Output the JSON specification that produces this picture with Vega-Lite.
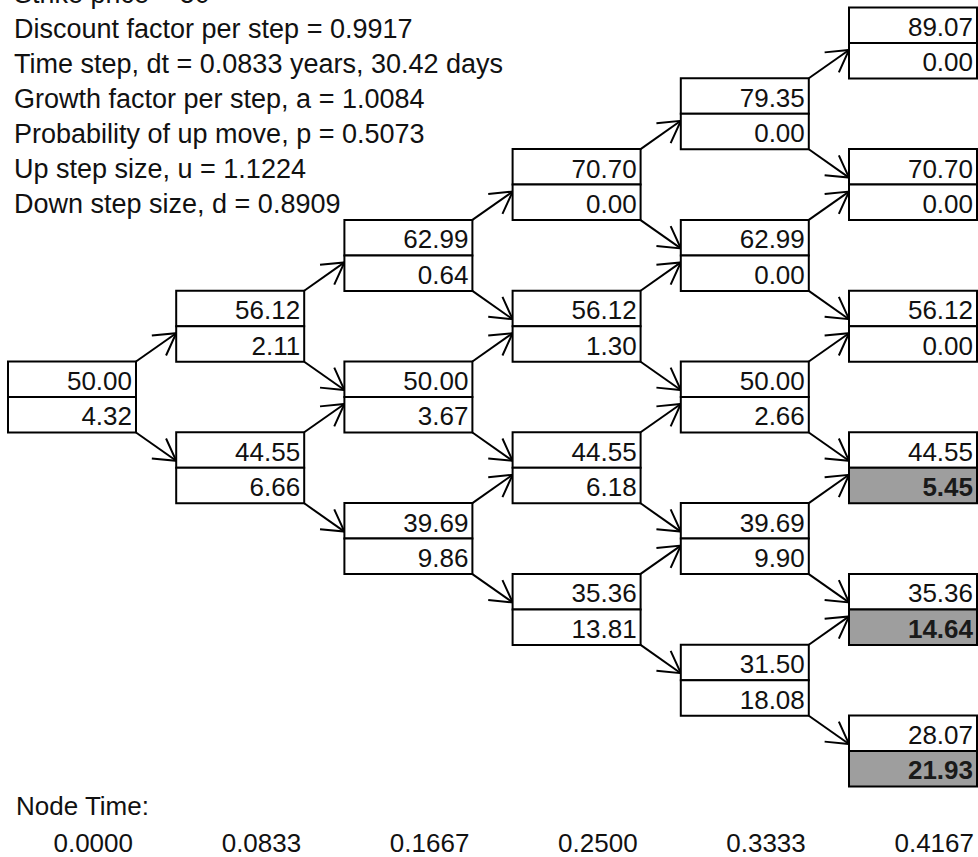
{
  "$schema": "https://vega.github.io/schema/vega-lite/v6.json",
  "width": 978,
  "height": 857,
  "autosize": "none",
  "padding": 0,
  "background": "white",
  "config": {
    "view": {"stroke": null},
    "text": {"font": "Liberation Sans", "fontSize": 26, "color": "#111111"}
  },
  "datasets": {
    "nodes": [
      {"step": 0, "L": 0, "price": 50.00, "value": 4.32},
      {"step": 1, "L": 1, "price": 56.12, "value": 2.11},
      {"step": 1, "L": -1, "price": 44.55, "value": 6.66},
      {"step": 2, "L": 2, "price": 62.99, "value": 0.64},
      {"step": 2, "L": 0, "price": 50.00, "value": 3.67},
      {"step": 2, "L": -2, "price": 39.69, "value": 9.86},
      {"step": 3, "L": 3, "price": 70.70, "value": 0.00},
      {"step": 3, "L": 1, "price": 56.12, "value": 1.30},
      {"step": 3, "L": -1, "price": 44.55, "value": 6.18},
      {"step": 3, "L": -3, "price": 35.36, "value": 13.81},
      {"step": 4, "L": 4, "price": 79.35, "value": 0.00},
      {"step": 4, "L": 2, "price": 62.99, "value": 0.00},
      {"step": 4, "L": 0, "price": 50.00, "value": 2.66},
      {"step": 4, "L": -2, "price": 39.69, "value": 9.90},
      {"step": 4, "L": -4, "price": 31.50, "value": 18.08},
      {"step": 5, "L": 5, "price": 89.07, "value": 0.00},
      {"step": 5, "L": 3, "price": 70.70, "value": 0.00},
      {"step": 5, "L": 1, "price": 56.12, "value": 0.00},
      {"step": 5, "L": -1, "price": 44.55, "value": 5.45},
      {"step": 5, "L": -3, "price": 35.36, "value": 14.64},
      {"step": 5, "L": -5, "price": 28.07, "value": 21.93}
    ],
    "edges": [
      {"step": 0, "L": 0, "step2": 1, "L2": 1, "dir": "up"},
      {"step": 0, "L": 0, "step2": 1, "L2": -1, "dir": "down"},
      {"step": 1, "L": 1, "step2": 2, "L2": 2, "dir": "up"},
      {"step": 1, "L": 1, "step2": 2, "L2": 0, "dir": "down"},
      {"step": 1, "L": -1, "step2": 2, "L2": 0, "dir": "up"},
      {"step": 1, "L": -1, "step2": 2, "L2": -2, "dir": "down"},
      {"step": 2, "L": 2, "step2": 3, "L2": 3, "dir": "up"},
      {"step": 2, "L": 2, "step2": 3, "L2": 1, "dir": "down"},
      {"step": 2, "L": 0, "step2": 3, "L2": 1, "dir": "up"},
      {"step": 2, "L": 0, "step2": 3, "L2": -1, "dir": "down"},
      {"step": 2, "L": -2, "step2": 3, "L2": -1, "dir": "up"},
      {"step": 2, "L": -2, "step2": 3, "L2": -3, "dir": "down"},
      {"step": 3, "L": 3, "step2": 4, "L2": 4, "dir": "up"},
      {"step": 3, "L": 3, "step2": 4, "L2": 2, "dir": "down"},
      {"step": 3, "L": 1, "step2": 4, "L2": 2, "dir": "up"},
      {"step": 3, "L": 1, "step2": 4, "L2": 0, "dir": "down"},
      {"step": 3, "L": -1, "step2": 4, "L2": 0, "dir": "up"},
      {"step": 3, "L": -1, "step2": 4, "L2": -2, "dir": "down"},
      {"step": 3, "L": -3, "step2": 4, "L2": -2, "dir": "up"},
      {"step": 3, "L": -3, "step2": 4, "L2": -4, "dir": "down"},
      {"step": 4, "L": 4, "step2": 5, "L2": 5, "dir": "up"},
      {"step": 4, "L": 4, "step2": 5, "L2": 3, "dir": "down"},
      {"step": 4, "L": 2, "step2": 5, "L2": 3, "dir": "up"},
      {"step": 4, "L": 2, "step2": 5, "L2": 1, "dir": "down"},
      {"step": 4, "L": 0, "step2": 5, "L2": 1, "dir": "up"},
      {"step": 4, "L": 0, "step2": 5, "L2": -1, "dir": "down"},
      {"step": 4, "L": -2, "step2": 5, "L2": -1, "dir": "up"},
      {"step": 4, "L": -2, "step2": 5, "L2": -3, "dir": "down"},
      {"step": 4, "L": -4, "step2": 5, "L2": -3, "dir": "up"},
      {"step": 4, "L": -4, "step2": 5, "L2": -5, "dir": "down"}
    ],
    "header": [
      {"line": 0, "label": "Strike price = 50"},
      {"line": 1, "label": "Discount factor per step = 0.9917"},
      {"line": 2, "label": "Time step, dt = 0.0833 years, 30.42 days"},
      {"line": 3, "label": "Growth factor per step, a = 1.0084"},
      {"line": 4, "label": "Probability of up move, p = 0.5073"},
      {"line": 5, "label": "Up step size, u = 1.1224"},
      {"line": 6, "label": "Down step size, d = 0.8909"}
    ],
    "footerTitle": [{"row": 0, "label": "Node Time:"}],
    "times": [
      {"step": 0, "row": 1, "time": 0.0},
      {"step": 1, "row": 1, "time": 0.0833},
      {"step": 2, "row": 1, "time": 0.1667},
      {"step": 3, "row": 1, "time": 0.25},
      {"step": 4, "row": 1, "time": 0.3333},
      {"step": 5, "row": 1, "time": 0.4167}
    ]
  },
  "resolve": {"scale": {"y": "independent"}},
  "layer": [
    {
      "data": {"name": "edges"},
      "transform": [{"filter": "datum.dir == 'up'"}],
      "mark": {"type": "rule", "color": "black", "strokeWidth": 2, "xOffset": 64, "x2Offset": -64, "yOffset": -35.5, "y2Offset": 7},
      "encoding": {
        "x": {"field": "step", "type": "quantitative", "scale": {"domain": [-0.42806, 5.38644], "nice": false, "zero": false}, "axis": null},
        "x2": {"field": "step2"},
        "y": {"field": "L", "type": "quantitative", "scale": {"domain": [-6.49718, 5.60734], "nice": false, "zero": false}, "axis": null},
        "y2": {"field": "L2"}
      }
    },
    {
      "data": {"name": "edges"},
      "transform": [{"filter": "datum.dir == 'down'"}],
      "mark": {"type": "rule", "color": "black", "strokeWidth": 2, "xOffset": 64, "x2Offset": -64, "yOffset": 35.5, "y2Offset": -7},
      "encoding": {
        "x": {"field": "step", "type": "quantitative", "scale": {"domain": [-0.42806, 5.38644], "nice": false, "zero": false}, "axis": null},
        "x2": {"field": "step2"},
        "y": {"field": "L", "type": "quantitative", "scale": {"domain": [-6.49718, 5.60734], "nice": false, "zero": false}, "axis": null},
        "y2": {"field": "L2"}
      }
    },
    {
      "data": {"name": "edges"},
      "transform": [{"filter": "datum.dir == 'up'"}],
      "mark": {"type": "point", "shape": "M-1,-0.577L0,0L-1,0.577", "filled": false, "stroke": "black", "strokeWidth": 2, "opacity": 1, "size": 1800, "angle": 324.45, "xOffset": -64, "yOffset": 7},
      "encoding": {
        "x": {"field": "step2", "type": "quantitative", "scale": {"domain": [-0.42806, 5.38644], "nice": false, "zero": false}, "axis": null},
        "y": {"field": "L2", "type": "quantitative", "scale": {"domain": [-6.49718, 5.60734], "nice": false, "zero": false}, "axis": null}
      }
    },
    {
      "data": {"name": "edges"},
      "transform": [{"filter": "datum.dir == 'down'"}],
      "mark": {"type": "point", "shape": "M-1,-0.577L0,0L-1,0.577", "filled": false, "stroke": "black", "strokeWidth": 2, "opacity": 1, "size": 1800, "angle": 35.55, "xOffset": -64, "yOffset": -7},
      "encoding": {
        "x": {"field": "step2", "type": "quantitative", "scale": {"domain": [-0.42806, 5.38644], "nice": false, "zero": false}, "axis": null},
        "y": {"field": "L2", "type": "quantitative", "scale": {"domain": [-6.49718, 5.60734], "nice": false, "zero": false}, "axis": null}
      }
    },
    {
      "data": {"name": "nodes"},
      "mark": {"type": "rect", "fill": "white", "stroke": "black", "strokeWidth": 2, "xOffset": -64, "x2Offset": 64, "yOffset": -35.5, "y2Offset": 0},
      "encoding": {
        "x": {"field": "step", "type": "quantitative", "scale": {"domain": [-0.42806, 5.38644], "nice": false, "zero": false}, "axis": null},
        "x2": {"field": "step"},
        "y": {"field": "L", "type": "quantitative", "scale": {"domain": [-6.49718, 5.60734], "nice": false, "zero": false}, "axis": null},
        "y2": {"field": "L"}
      }
    },
    {
      "data": {"name": "nodes"},
      "mark": {"type": "rect", "stroke": "black", "strokeWidth": 2, "xOffset": -64, "x2Offset": 64, "yOffset": 0, "y2Offset": 35.5},
      "encoding": {
        "x": {"field": "step", "type": "quantitative", "scale": {"domain": [-0.42806, 5.38644], "nice": false, "zero": false}, "axis": null},
        "x2": {"field": "step"},
        "y": {"field": "L", "type": "quantitative", "scale": {"domain": [-6.49718, 5.60734], "nice": false, "zero": false}, "axis": null},
        "y2": {"field": "L"},
        "fill": {"condition": {"test": "datum.step == 5 && datum.value > 0", "value": "#9e9e9e"}, "value": "white"}
      }
    },
    {
      "data": {"name": "nodes"},
      "mark": {"type": "text", "align": "right", "baseline": "alphabetic", "xOffset": 60, "yOffset": -7},
      "encoding": {
        "x": {"field": "step", "type": "quantitative", "scale": {"domain": [-0.42806, 5.38644], "nice": false, "zero": false}, "axis": null},
        "y": {"field": "L", "type": "quantitative", "scale": {"domain": [-6.49718, 5.60734], "nice": false, "zero": false}, "axis": null},
        "text": {"field": "price", "type": "quantitative", "format": ".2f"}
      }
    },
    {
      "data": {"name": "nodes"},
      "transform": [{"filter": "!(datum.step == 5 && datum.value > 0)"}],
      "mark": {"type": "text", "align": "right", "baseline": "alphabetic", "xOffset": 60, "yOffset": 28.5},
      "encoding": {
        "x": {"field": "step", "type": "quantitative", "scale": {"domain": [-0.42806, 5.38644], "nice": false, "zero": false}, "axis": null},
        "y": {"field": "L", "type": "quantitative", "scale": {"domain": [-6.49718, 5.60734], "nice": false, "zero": false}, "axis": null},
        "text": {"field": "value", "type": "quantitative", "format": ".2f"}
      }
    },
    {
      "data": {"name": "nodes"},
      "transform": [{"filter": "datum.step == 5 && datum.value > 0"}],
      "mark": {"type": "text", "align": "right", "baseline": "alphabetic", "fontWeight": "bold", "color": "#1a1a1a", "xOffset": 60, "yOffset": 28.5},
      "encoding": {
        "x": {"field": "step", "type": "quantitative", "scale": {"domain": [-0.42806, 5.38644], "nice": false, "zero": false}, "axis": null},
        "y": {"field": "L", "type": "quantitative", "scale": {"domain": [-6.49718, 5.60734], "nice": false, "zero": false}, "axis": null},
        "text": {"field": "value", "type": "quantitative", "format": ".2f"}
      }
    },
    {
      "data": {"name": "header"},
      "mark": {"type": "text", "align": "left", "baseline": "alphabetic", "fontSize": 27, "xOffset": -58},
      "encoding": {
        "x": {"datum": 0, "type": "quantitative", "scale": {"domain": [-0.42806, 5.38644], "nice": false, "zero": false}, "axis": null},
        "y": {"field": "line", "type": "quantitative", "scale": {"domain": [-0.0943, 24.391], "reverse": true, "nice": false, "zero": false}, "axis": null},
        "text": {"field": "label"}
      }
    },
    {
      "data": {"name": "footerTitle"},
      "mark": {"type": "text", "align": "left", "baseline": "alphabetic", "xOffset": -56},
      "encoding": {
        "x": {"datum": 0, "type": "quantitative", "scale": {"domain": [-0.42806, 5.38644], "nice": false, "zero": false}, "axis": null},
        "y": {"field": "row", "type": "quantitative", "scale": {"domain": [-22.027, 1.1351], "reverse": true, "nice": false, "zero": false}, "axis": null},
        "text": {"field": "label"}
      }
    },
    {
      "data": {"name": "times"},
      "mark": {"type": "text", "align": "right", "baseline": "alphabetic", "xOffset": 61},
      "encoding": {
        "x": {"field": "step", "type": "quantitative", "scale": {"domain": [-0.42806, 5.38644], "nice": false, "zero": false}, "axis": null},
        "y": {"field": "row", "type": "quantitative", "scale": {"domain": [-22.027, 1.1351], "reverse": true, "nice": false, "zero": false}, "axis": null},
        "text": {"field": "time", "type": "quantitative", "format": ".4f"}
      }
    }
  ]
}
